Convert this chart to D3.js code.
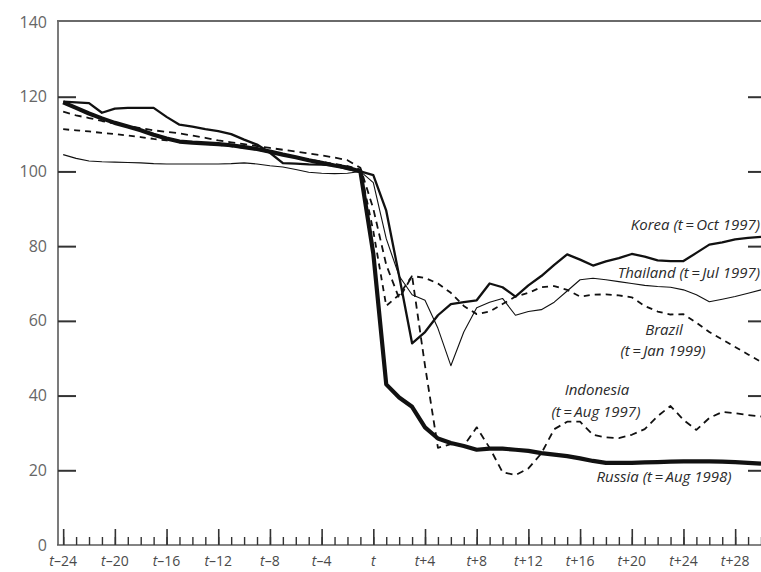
<!DOCTYPE html>
<html>
<head>
<meta charset="utf-8">
<script src="https://cdn.jsdelivr.net/npm/d3@7"></script>
<style>
  body { margin: 0; background: #fff; }
  svg { display: block; }
  .lbl { font-family: "Open Sans", "DejaVu Sans", sans-serif; font-style: italic; font-size: 15px; fill: #2a2a2a; }
</style>
</head>
<body>
<div id="chart"></div>
<script>
// months relative to crisis date t, from t-24 to t+30
const MONTHS = d3.range(-24, 31);

const RUSSIA = [118.5, 117, 115.5, 114.2, 113, 112, 111, 109.8, 108.8, 108, 107.7, 107.5, 107.3, 107, 106.5, 106, 105.3, 104.5, 103.8, 103, 102.3, 101.6, 101, 100,
  78, 43, 39.5, 37, 31.5, 28.5, 27.3, 26.5, 25.5, 25.8, 25.8, 25.5, 25.2, 24.6, 24.2, 23.8, 23.2, 22.5, 22, 22, 22, 22.1, 22.2, 22.3, 22.4, 22.4, 22.4, 22.3, 22.2, 22, 21.8];

const KOREA = [118.7, 118.5, 118.3, 115.7, 116.8, 117, 117, 117, 114.6, 112.5, 112, 111.3, 110.8, 110, 108.5, 107.2, 105, 102.2, 102.1, 101.9, 101.8, 101.6, 100.6, 100,
  99, 89.5, 72, 54, 57, 61.5, 64.5, 65, 65.5, 70, 69, 66.5, 69.5, 72, 75, 77.8, 76.4, 74.8, 75.9, 76.8, 77.9, 77.2, 76.2, 76, 76, 78.2, 80.4, 81, 81.8, 82.2, 82.5];

const THAILAND = [104.5, 103.5, 102.8, 102.6, 102.5, 102.4, 102.3, 102.1, 102, 102, 102, 102, 102, 102.1, 102.3, 102, 101.5, 101.2, 100.5, 99.8, 99.5, 99.4, 99.5, 100,
  97, 82, 72, 67, 65.5, 58, 48, 57, 63.5, 65, 66, 61.5, 62.5, 63, 65, 68, 71, 71.4, 71, 70.5, 70, 69.5, 69.2, 69, 68.3, 67, 65.1, 65.8, 66.5, 67.4, 68.3];

const BRAZIL = [111.3, 111, 110.7, 110.3, 110, 109.6, 109.2, 108.7, 108.3, 108, 107.7, 107.4, 107.1, 106.7, 106.3, 105.8, 105.2, 104.5, 103.8, 103.2, 102.6, 102, 101.4, 100.5,
  84, 64, 67, 72, 71.5, 70, 67.5, 64, 61.8, 62.5, 64.5, 66.5, 67.5, 69, 69.3, 68.3, 66.5, 67, 67.1, 66.8, 66.3, 64, 62.5, 61.7, 61.8, 59.5, 57, 55, 53, 51, 49];

const INDONESIA = [116, 115, 114.3, 113.5, 112.8, 112.2, 111.6, 111, 110.6, 110.2, 109.6, 109, 108.3, 107.8, 107.3, 106.8, 106.3, 105.8, 105.3, 104.8, 104.3, 103.7, 103, 101,
  90, 75, 66, 72, 48, 26, 27, 26.5, 31.5, 26, 19.5, 18.7, 20.5, 24.5, 31, 33, 33, 29.5, 28.8, 28.6, 29.5, 31, 34.5, 37.2, 33.5, 30.8, 34, 35.6, 35.3, 34.8, 34.4];

const Y_LABELS = [0, 20, 40, 60, 80, 100, 120, 140];
const Y_TICKS = [20, 40, 60, 80, 100, 120];
const X_MAJOR = d3.range(-24, 29, 4);
const X_MINOR = d3.range(-24, 31);

const WIDTH = 761;
const HEIGHT = 572;

const svg = d3.select("#chart").append("svg")
  .attr("width", WIDTH)
  .attr("height", HEIGHT);

const x = d3.scaleLinear().domain([-24.4, 30]).range([58, 761]);
const y = d3.scaleLinear().domain([0, 140]).range([545, 22]);

const AXIS_COL = "#5a5a5a";

// frame: left axis, bottom axis, top rule
svg.append("line").attr("x1", 58).attr("x2", 58).attr("y1", 20).attr("y2", 545)
  .attr("stroke", AXIS_COL).attr("stroke-width", 1.6);
svg.append("line").attr("x1", 57).attr("x2", 761).attr("y1", 545).attr("y2", 545)
  .attr("stroke", AXIS_COL).attr("stroke-width", 1.6);
svg.append("line").attr("x1", 57).attr("x2", 761).attr("y1", 21).attr("y2", 21)
  .attr("stroke", "#6a6a6a").attr("stroke-width", 2);

// y ticks (left, inward)
const yTickAxis = svg.append("g")
  .attr("transform", "translate(58,0)")
  .call(d3.axisLeft(y).tickValues(Y_TICKS).tickSize(-18).tickFormat(""));
yTickAxis.select(".domain").remove();
yTickAxis.selectAll("line").attr("stroke", "#333").attr("stroke-width", 2);

// y ticks (right, inward)
const yRight = svg.append("g")
  .attr("transform", "translate(761,0)")
  .call(d3.axisRight(y).tickValues(Y_TICKS).tickSize(-13).tickFormat(""));
yRight.select(".domain").remove();
yRight.selectAll("line").attr("stroke", "#333").attr("stroke-width", 2);

// y labels
const yLab = svg.append("g")
  .attr("transform", "translate(58,0)")
  .call(d3.axisLeft(y).tickValues(Y_LABELS).tickSize(0).tickPadding(11));
yLab.select(".domain").remove();
yLab.selectAll("text")
  .attr("font-family", "'Open Sans', 'DejaVu Sans', sans-serif")
  .attr("font-size", 16)
  .attr("fill", "#666");

// x minor ticks
const xMinor = svg.append("g")
  .attr("transform", "translate(0,545)")
  .call(d3.axisBottom(x).tickValues(X_MINOR).tickSize(-8).tickFormat(""));
xMinor.select(".domain").remove();
xMinor.selectAll("line").attr("stroke", "#333").attr("stroke-width", 1.4);

// x major ticks
const xMajor = svg.append("g")
  .attr("transform", "translate(0,545)")
  .call(d3.axisBottom(x).tickValues(X_MAJOR).tickSize(-16).tickFormat(""));
xMajor.select(".domain").remove();
xMajor.selectAll("line").attr("stroke", "#333").attr("stroke-width", 1.6);

// x labels: italic t plus offset
const xLab = svg.append("g").attr("class", "x-labels");
X_MAJOR.forEach(m => {
  const t = xLab.append("text")
    .attr("x", x(m))
    .attr("y", 566)
    .attr("text-anchor", "middle")
    .attr("font-family", "'Open Sans', 'DejaVu Sans', sans-serif")
    .attr("font-size", 14)
    .attr("fill", "#4a4a4a");
  t.append("tspan").attr("font-style", "italic").text("t");
  if (m !== 0) t.append("tspan").text((m < 0 ? "\u2013" : "+") + Math.abs(m));
});

// series
const line = d3.line()
  .x((d, i) => x(MONTHS[i]))
  .y(d => y(d));

const SERIES = [
  { name: "Thailand", values: THAILAND, width: 1.1, dash: null },
  { name: "Brazil", values: BRAZIL, width: 1.8, dash: "6,5" },
  { name: "Indonesia", values: INDONESIA, width: 1.8, dash: "7,5" },
  { name: "Korea", values: KOREA, width: 2.3, dash: null },
  { name: "Russia", values: RUSSIA, width: 4.2, dash: null }
];

svg.append("g").attr("class", "lines")
  .selectAll("path")
  .data(SERIES)
  .enter()
  .append("path")
  .attr("d", d => line(d.values))
  .attr("fill", "none")
  .attr("stroke", "#111")
  .attr("stroke-width", d => d.width)
  .attr("stroke-dasharray", d => d.dash)
  .attr("stroke-linejoin", "round");

// direct labels
const LABELS = [
  { text: "Korea (t\u2009=\u2009Oct 1997)", x: 760, y: 230, anchor: "end" },
  { text: "Thailand (t\u2009=\u2009Jul 1997)", x: 760, y: 278, anchor: "end" },
  { text: "Brazil", x: 664, y: 335, anchor: "middle" },
  { text: "(t\u2009=\u2009Jan 1999)", x: 663, y: 356, anchor: "middle" },
  { text: "Indonesia", x: 597, y: 395, anchor: "middle" },
  { text: "(t\u2009=\u2009Aug 1997)", x: 596, y: 417, anchor: "middle" },
  { text: "Russia (t\u2009=\u2009Aug 1998)", x: 664, y: 482, anchor: "middle" }
];

svg.append("g").attr("class", "labels")
  .selectAll("text")
  .data(LABELS)
  .enter()
  .append("text")
  .attr("class", "lbl")
  .attr("x", d => d.x)
  .attr("y", d => d.y)
  .attr("text-anchor", d => d.anchor)
  .text(d => d.text);
</script>
</body>
</html>
